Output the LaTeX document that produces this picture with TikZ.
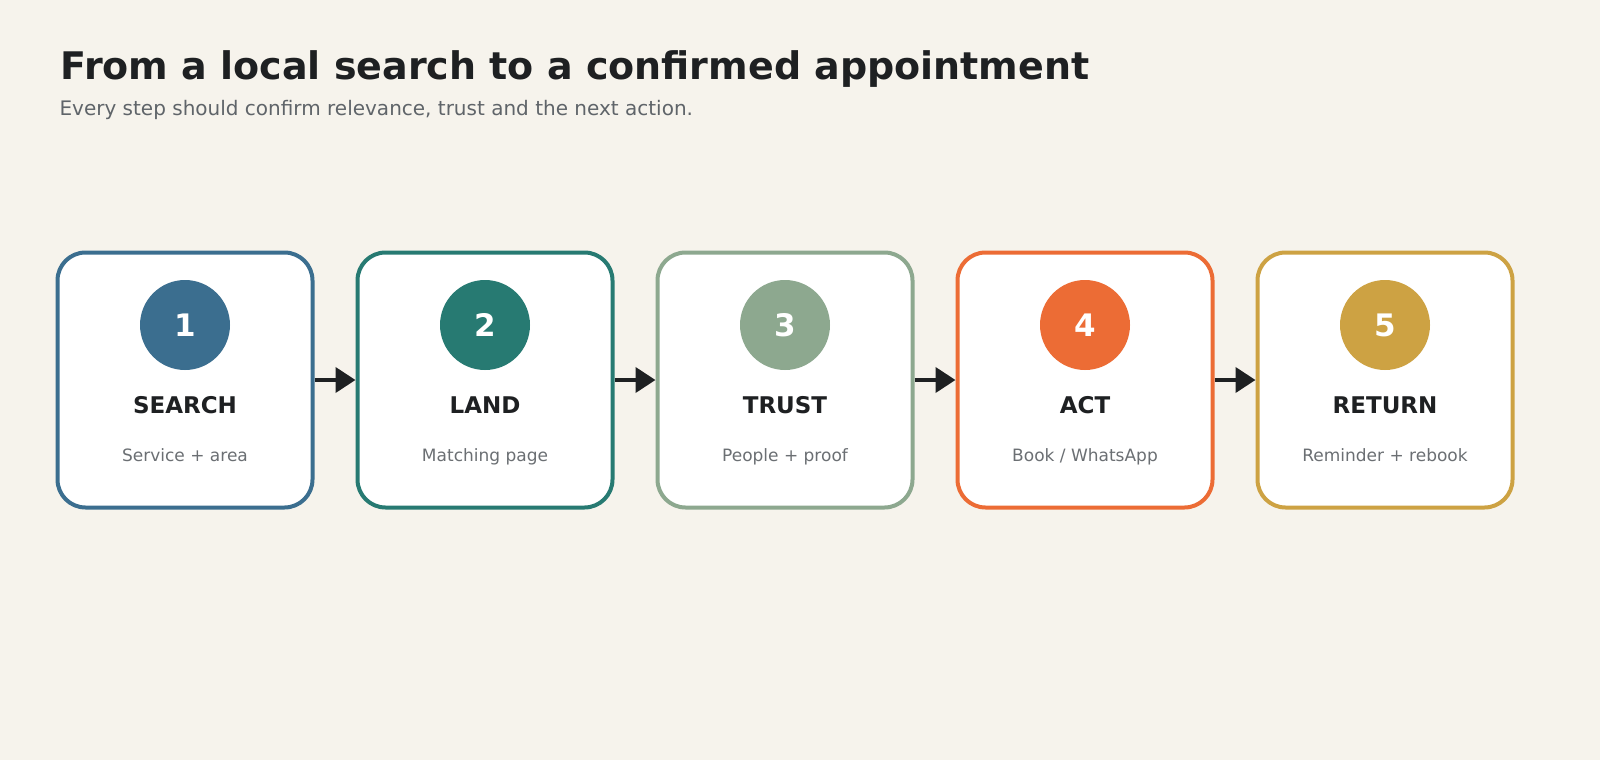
\documentclass[tikz,border=0pt]{standalone}
\usepackage{fontspec}
\setmainfont{DejaVu Sans}
\usetikzlibrary{arrows.meta}
\definecolor{paper}{HTML}{F6F3EC}
\definecolor{ink}{HTML}{1E2022}
\definecolor{muted}{HTML}{5F6469}
\definecolor{soft}{HTML}{6B6F73}
\definecolor{cblue}{HTML}{3B6E8F}
\definecolor{cteal}{HTML}{277A72}
\definecolor{csage}{HTML}{8DA88F}
\definecolor{corange}{HTML}{EC6C35}
\definecolor{cgold}{HTML}{CDA243}
\tikzset{
  stepbox/.style={draw=#1,fill=white,line width=4pt,rounded corners=28pt,
    minimum width=255pt,minimum height=255pt,inner sep=0pt},
  badge/.style={circle,fill=#1,minimum size=90pt,inner sep=0pt,text=white,
    font=\fontsize{31}{31}\selectfont\bfseries},
  steptitle/.style={anchor=base,text=ink,font=\fontsize{23}{23}\selectfont\bfseries},
  stepnote/.style={anchor=base,text=soft,font=\fontsize{17}{17}\selectfont},
  flow/.style={draw=ink,line width=4pt,-{Triangle[length=20pt,width=25pt]}}
}
\begin{document}
\begin{tikzpicture}[x=1pt,y=-1pt]
\fill[paper] (0,0) rectangle (1600,760);
\useasboundingbox (0,0) rectangle (1600,760);
\node[anchor=base west,text=ink,font=\fontsize{38}{38}\selectfont\bfseries] (title) at (57,80) {From a local search to a confirmed appointment};
\node[anchor=base west,text=muted,font=\fontsize{20}{20}\selectfont] (subtitle) at (56,115) {Every step should confirm relevance, trust and the next action.};
% steps
\node[stepbox=cblue] (search) at (185,380) {};
\node[badge=cblue] (n1) at (185,325) {1};
\node[steptitle] (t1) at (185,413) {SEARCH};
\node[stepnote] (s1) at (185,461) {Service + area};
\node[stepbox=cteal] (land) at (485,380) {};
\node[badge=cteal] (n2) at (485,325) {2};
\node[steptitle] (t2) at (485,413) {LAND};
\node[stepnote] (s2) at (485,461) {Matching page};
\node[stepbox=csage] (trust) at (785,380) {};
\node[badge=csage] (n3) at (785,325) {3};
\node[steptitle] (t3) at (785,413) {TRUST};
\node[stepnote] (s3) at (785,461) {People + proof};
\node[stepbox=corange] (act) at (1085,380) {};
\node[badge=corange] (n4) at (1085,325) {4};
\node[steptitle] (t4) at (1085,413) {ACT};
\node[stepnote] (s4) at (1085,461) {Book / WhatsApp};
\node[stepbox=cgold] (return) at (1385,380) {};
\node[badge=cgold] (n5) at (1385,325) {5};
\node[steptitle] (t5) at (1385,413) {RETURN};
\node[stepnote] (s5) at (1385,461) {Reminder + rebook};
% arrows
\draw[flow] (search.east) -- (land.west);
\draw[flow] (land.east) -- (trust.west);
\draw[flow] (trust.east) -- (act.west);
\draw[flow] (act.east) -- (return.west);
\end{tikzpicture}
\end{document}
